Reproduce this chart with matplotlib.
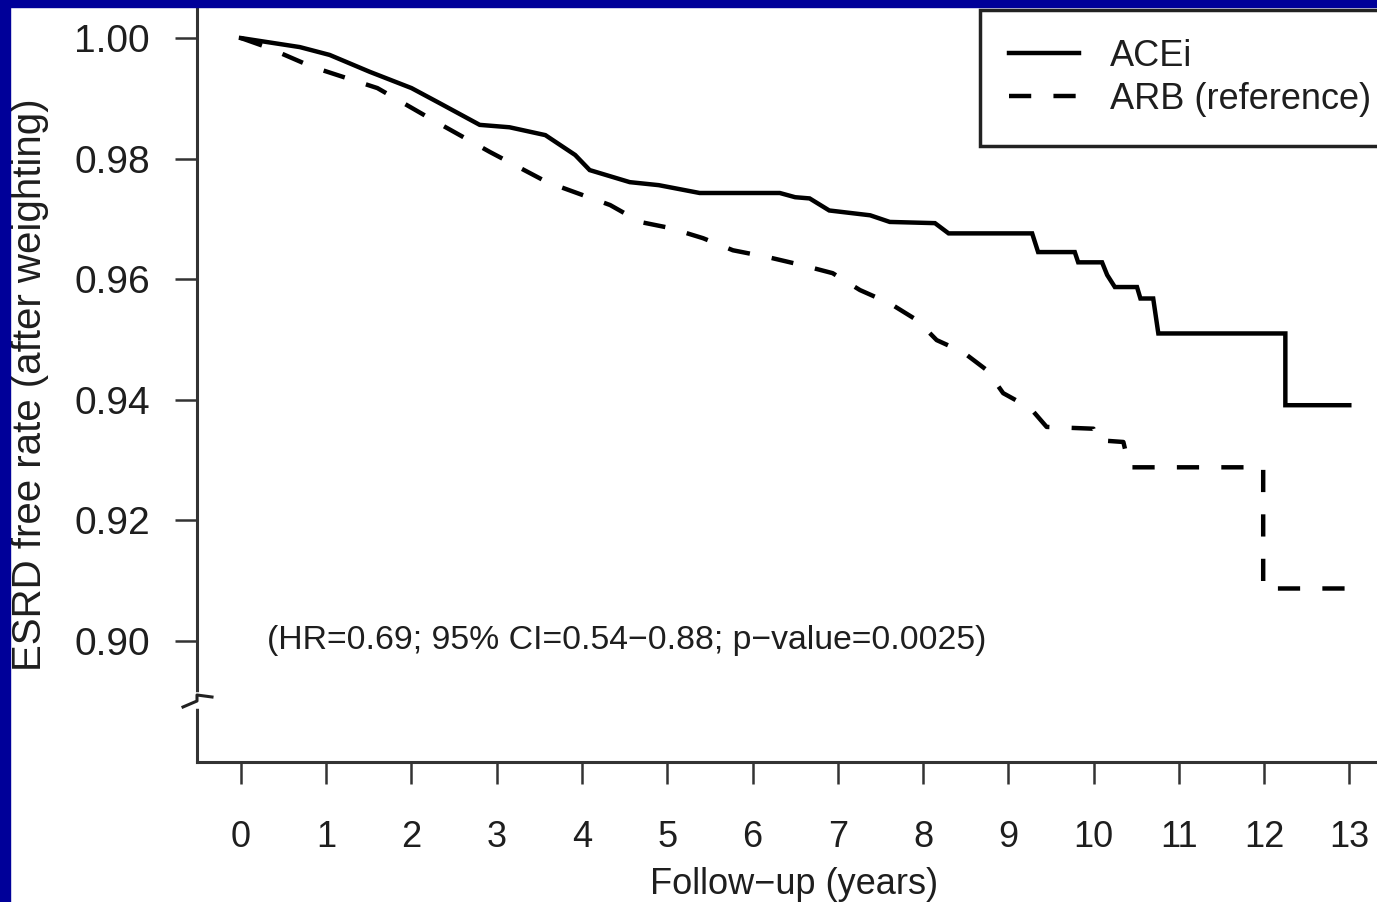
import numpy as np
import matplotlib
matplotlib.use("Agg")
import matplotlib.pyplot as plt
from matplotlib.patches import Rectangle

plt.rcParams["font.family"] = ["Liberation Sans", "DejaVu Sans"]

# --- curve outlines (time in years, ESRD-free rate) ----------------------------------
# repeated times mark the visible vertical drops of the KM step curve
acei_t = [0.0, 0.69, 1.04, 1.51, 2.0, 2.33, 2.8, 3.15, 3.57, 3.92, 4.09, 4.56, 4.9,
          5.38, 6.32, 6.5, 6.67, 6.9, 7.38, 7.61, 8.14, 8.3, 9.28, 9.35, 9.78, 9.82,
          10.10, 10.16, 10.25, 10.51, 10.55, 10.70, 10.76, 12.25, 12.25, 13.0]
acei_s = [1.000, 0.9985, 0.9972, 0.9944, 0.9917, 0.9892, 0.9856, 0.9852, 0.9839, 0.9806,
          0.9781, 0.9761, 0.9756, 0.9743, 0.9743, 0.9736, 0.9734, 0.9714, 0.9706, 0.9695,
          0.9693, 0.9676, 0.9676, 0.9645, 0.9645, 0.9628, 0.9628, 0.9607, 0.9587, 0.9587,
          0.9568, 0.9568, 0.9510, 0.9510, 0.9391, 0.9391]

arb_t = [0.0, 0.3, 0.84, 1.6, 2.25, 2.92, 3.59, 4.33, 4.68, 5.03, 5.42, 5.77, 6.2,
         6.59, 6.94, 7.26, 7.61, 7.93, 8.16, 8.47, 8.75, 8.94, 9.26, 9.45, 10.0, 10.05,
         10.35, 10.42, 11.99, 11.99, 13.0]
arb_s = [1.000, 0.9985, 0.9952, 0.9917, 0.9864, 0.9811, 0.9761, 0.9723, 0.9695, 0.9685,
         0.9668, 0.9648, 0.9636, 0.9623, 0.9610, 0.9582, 0.9560, 0.9532, 0.9499, 0.9479,
         0.9449, 0.9411, 0.9386, 0.9355, 0.9352, 0.9333, 0.9330, 0.9288, 0.9288, 0.9087,
         0.9087]

series_labels = ["ACEi", "ARB (reference)"]
x_ticks = list(range(14))
y_ticks = [0.90, 0.92, 0.94, 0.96, 0.98, 1.00]
stats_text = "(HR=0.69; 95% CI=0.54\u22120.88; p\u2212value=0.0025)"

INK = "#1e1e1e"
W, H = 1377, 902

fig = plt.figure(figsize=(W / 100, H / 100), dpi=100, facecolor="white")
# axes box in pixels: left spine x=197, bottom spine y=762, runs to top/right edges
ax = fig.add_axes([197 / W, (H - 762) / H, (W - 197) / W, (762 - 7) / H])

ax.plot(acei_t, acei_s, color="black", lw=3.2, solid_joinstyle="miter",
        label=series_labels[0])
ax.plot(arb_t, arb_s, color="black", lw=3.2, dashes=(5, 5), label=series_labels[1])

ax.set_xlim(-0.516, 13.325)
ax.set_ylim(0.87992, 1.00515)
for s in ["top", "right"]:
    ax.spines[s].set_visible(False)
for s in ["left", "bottom"]:
    ax.spines[s].set_linewidth(2.2)
    ax.spines[s].set_color("#333333")

ax.set_xticks(x_ticks)
ax.set_xticklabels([str(v) for v in x_ticks])
ax.set_yticks(y_ticks)
ax.set_yticklabels([f"{v:.2f}" for v in y_ticks])
ax.tick_params(axis="x", length=16, width=1.8, color="#333333", pad=26,
               labelsize=26, labelcolor=INK)
ax.tick_params(axis="y", length=16, width=1.8, color="#333333", pad=18,
               labelsize=28, labelcolor=INK)

# axis break mark on the y spine
bx = lambda px: (px - 197) / (W - 197)
by = lambda py: (762 - py) / (762 - 7)
ax.plot([bx(197), bx(197)], [by(695), by(706)], color="white", lw=4,
        transform=ax.transAxes, clip_on=False, zorder=5)
ax.plot([bx(183), bx(197), bx(197), bx(212)], [by(707), by(701), by(695), by(697)],
        color="#222222", lw=2.2, transform=ax.transAxes, clip_on=False, zorder=6)

ax.text(0.31, 0.9, stats_text, fontsize=24.3, color=INK, va="center", ha="left",
        transform=ax.transData)

fig.text(30 / W, 1 - 385 / H, "ESRD free rate (after weighting)", rotation=90,
         ha="center", va="center", fontsize=29, color=INK)
fig.text(794 / W, 1 - 884 / H, "Follow\u2212up (years)", ha="center", va="center",
         fontsize=26, color=INK)

leg = ax.legend(loc="upper left", bbox_to_anchor=(980 / W, 1 - 10 / H),
                bbox_transform=fig.transFigure, borderaxespad=0, fontsize=26,
                handlelength=1.95, handletextpad=0.85, labelspacing=0.22,
                borderpad=0.8, fancybox=False, framealpha=1)
leg.get_frame().set_edgecolor("#222222")
leg.get_frame().set_linewidth(2.5)
for t in leg.get_texts():
    t.set_color(INK)

# dark blue slide frame (left and top)
fig.patches.append(Rectangle((0, 0), 10 / W, 1, transform=fig.transFigure,
                             color="#000099", zorder=10))
fig.patches.append(Rectangle((0, 1 - 7 / H), 1, 7 / H, transform=fig.transFigure,
                             color="#000099", zorder=10))

fig.savefig("out.png", dpi=100, facecolor="white")
